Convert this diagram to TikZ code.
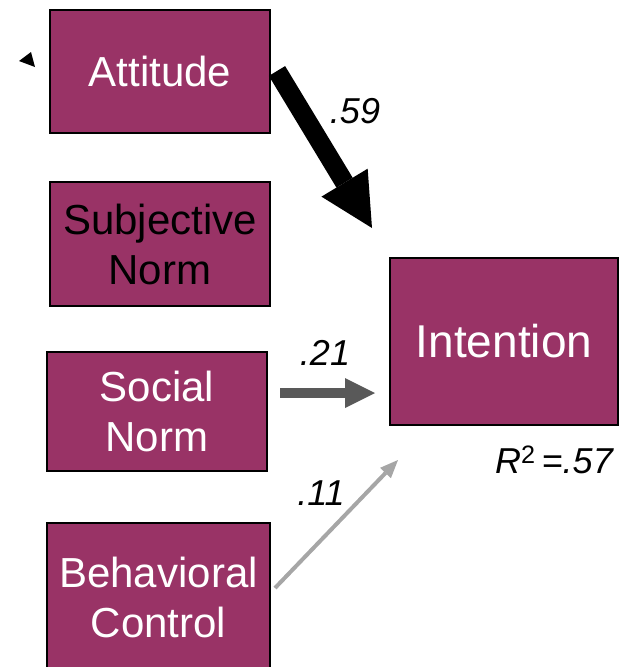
\documentclass[tikz,border=0pt]{standalone}
\usepackage{fontspec}
\setmainfont{Liberation Sans}
\usetikzlibrary{arrows.meta}
\definecolor{boxfill}{HTML}{993366}
\definecolor{midgray}{HTML}{595959}
\definecolor{lightgray}{HTML}{A6A6A6}
\tikzset{
  construct/.style={draw=black, line width=1.2pt, fill=boxfill, text=white,
    align=center, inner sep=0pt, font=\fontsize{42}{50}\selectfont},
  coef/.style={font=\fontsize{36}{40}\selectfont\itshape, anchor=base, inner sep=0pt},
  strongpath/.style={black, line width=19pt,
    -{Triangle[length=53pt, width=54pt, line width=0pt]}},
  midpath/.style={midgray, line width=10pt,
    -{Triangle[length=30pt, width=30pt, line width=0pt]}},
  weakpath/.style={lightgray, line width=4pt,
    -{Triangle[length=18pt, width=15pt, line width=0pt]}},
}
\begin{document}
\begin{tikzpicture}[x=1pt, y=-1pt]
  \useasboundingbox (0,0) rectangle (628,667);

  % predictor boxes
  \node[construct, minimum width=220pt, minimum height=123pt] (att) at (160,71.5) {Attitude};
  \node[construct, minimum width=220pt, minimum height=124pt, text=black] (subj) at (160,244) {Subjective\\Norm};
  \node[construct, minimum width=220pt, minimum height=119pt] (soc) at (157,411.5) {Social\\Norm};
  \node[construct, minimum width=223pt, minimum height=148pt] (beh) at (158.5,597) {Behavioral\\Control};

  % outcome box
  \node[construct, minimum width=228pt, minimum height=167pt, font=\fontsize{46}{50}\selectfont] (int) at (504,341.5) {Intention};

  % path end points
  \coordinate (s59) at (277,71);
  \coordinate (t59) at (372,228);
  \coordinate (s21) at (280,393);
  \coordinate (t21) at (375,393);
  \coordinate (s11) at (275,588);
  \coordinate (t11) at (398,460);

  % paths into intention
  \draw[strongpath] (s59) -- (t59);
  \draw[midpath] (s21) -- (t21);
  \draw[weakpath] (s11) -- (t11);

  % coefficients
  \node[coef] (c59) at (355,123) {.59};
  \node[coef] (c21) at (325,365) {.21};
  \node[coef] (c11) at (321,505) {.11};
  \node[coef, anchor=base west] (r2) at (495,473) {R\textsuperscript{\upshape 2}\,=.57};

  % small arrowhead beside attitude
  \fill[black] (19,61) -- (31,52) -- (35,67) -- cycle;
\end{tikzpicture}
\end{document}
